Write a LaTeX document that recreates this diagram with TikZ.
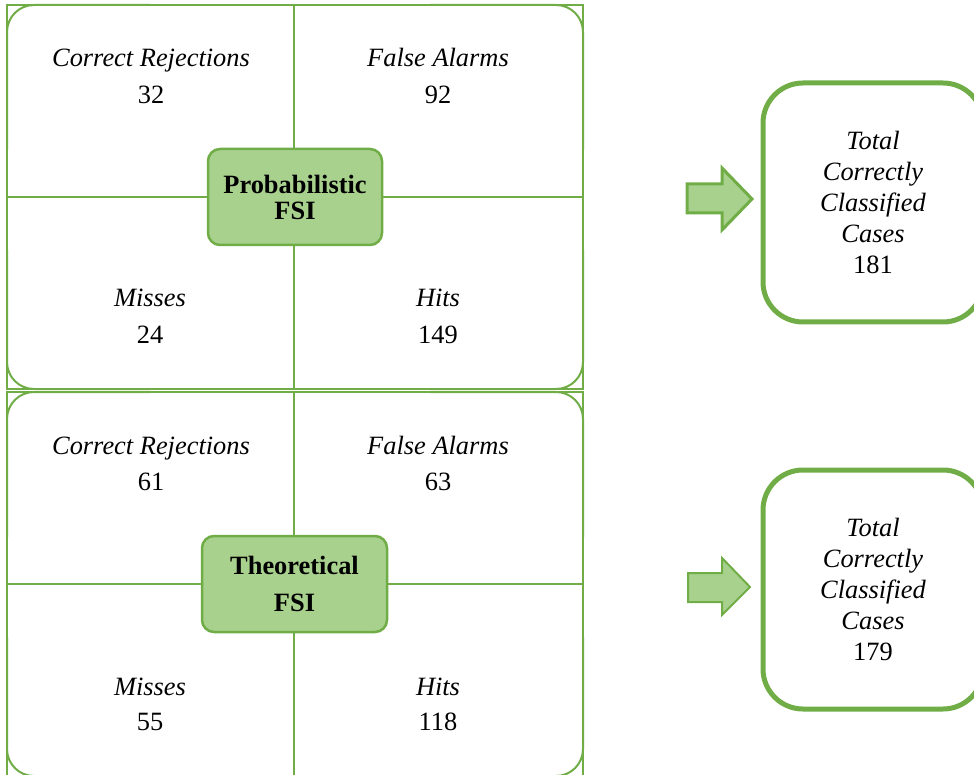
\documentclass[tikz,border=0pt]{standalone}
\usepackage{fontspec}
\setmainfont{Liberation Serif}
\definecolor{gline}{RGB}{112,173,71}
\definecolor{gfill}{RGB}{169,209,142}
\begin{document}
\begin{tikzpicture}[x=1pt,y=-1pt,
  gridline/.style={draw=gline, line width=2pt},
  cellttl/.style={anchor=base, font=\fontsize{26.4}{30}\selectfont\itshape},
  cellnum/.style={anchor=base, font=\fontsize{26.4}{30}\selectfont},
  labelbox/.style={draw=gline, fill=gfill, line width=2.5pt, rounded corners=12pt, align=center, inner sep=0pt},
  totbox/.style={draw=gline, line width=5pt, rounded corners=40pt, align=center, inner sep=0pt, minimum width=220pt, minimum height=239pt, font=\fontsize{26.4}{31}\selectfont\itshape},
  arrowshape/.style={draw=gline, fill=gfill, line join=miter}
]
\useasboundingbox (0,0) rectangle (974,775);
\begin{scope}
\clip (0,0) rectangle (974,775);
\foreach \oy in {0,387} {
  \draw[gridline] (7,5+\oy) rectangle (583,389+\oy);
  \draw[gridline] (294,5+\oy) -- (294,389+\oy);
  \draw[gridline] (7,197+\oy) -- (583,197+\oy);
  \draw[gridline, rounded corners=27pt] (7,150+\oy) -- (7,5+\oy) -- (150,5+\oy);
  \draw[gridline, rounded corners=27pt] (430,5+\oy) -- (583,5+\oy) -- (583,150+\oy);
  \draw[gridline, rounded corners=27pt] (7,250+\oy) -- (7,389+\oy) -- (150,389+\oy);
  \draw[gridline, rounded corners=27pt] (430,389+\oy) -- (583,389+\oy) -- (583,250+\oy);
}
% top matrix texts
\node[cellttl] (cr1) at (151,67) {Correct Rejections};
\node[cellnum] (cr1n) at (151,104) {32};
\node[cellttl] (fa1) at (438,67) {False Alarms};
\node[cellnum] (fa1n) at (438,104) {92};
\node[cellttl] (mi1) at (150,307) {Misses};
\node[cellnum] (mi1n) at (150,344) {24};
\node[cellttl] (hi1) at (438,307) {Hits};
\node[cellnum] (hi1n) at (438,344) {149};
% bottom matrix texts
\node[cellttl] (cr2) at (151,454) {Correct Rejections};
\node[cellnum] (cr2n) at (151,490) {61};
\node[cellttl] (fa2) at (438,454) {False Alarms};
\node[cellnum] (fa2n) at (438,490) {63};
\node[cellttl] (mi2) at (150,695) {Misses};
\node[cellnum] (mi2n) at (150,730) {55};
\node[cellttl] (hi2) at (438,695) {Hits};
\node[cellnum] (hi2n) at (438,730) {118};
% centre labels
\node[labelbox, minimum width=174pt, minimum height=96pt, font=\fontsize{26.4}{26}\selectfont\bfseries] (prob) at (295,197) {Probabilistic\\FSI};
\node[labelbox, minimum width=185pt, minimum height=96pt, font=\fontsize{26.4}{37}\selectfont\bfseries] (theo) at (294.5,584) {Theoretical\\FSI};
% arrows
\draw[arrowshape, line width=3pt] (687,184) -- (722,184) -- (722,168) -- (752,199) -- (722,230) -- (722,213) -- (687,213) -- cycle;
\draw[arrowshape, line width=2pt] (688,573) -- (722,573) -- (722,558) -- (750,587) -- (722,615) -- (722,602) -- (688,602) -- cycle;
% totals
\node[totbox] (tot1) at (873,202.5) {Total\\Correctly\\Classified\\Cases\\\upshape 181};
\node[totbox] (tot2) at (873,589.5) {Total\\Correctly\\Classified\\Cases\\\upshape 179};
\end{scope}
\end{tikzpicture}
\end{document}
